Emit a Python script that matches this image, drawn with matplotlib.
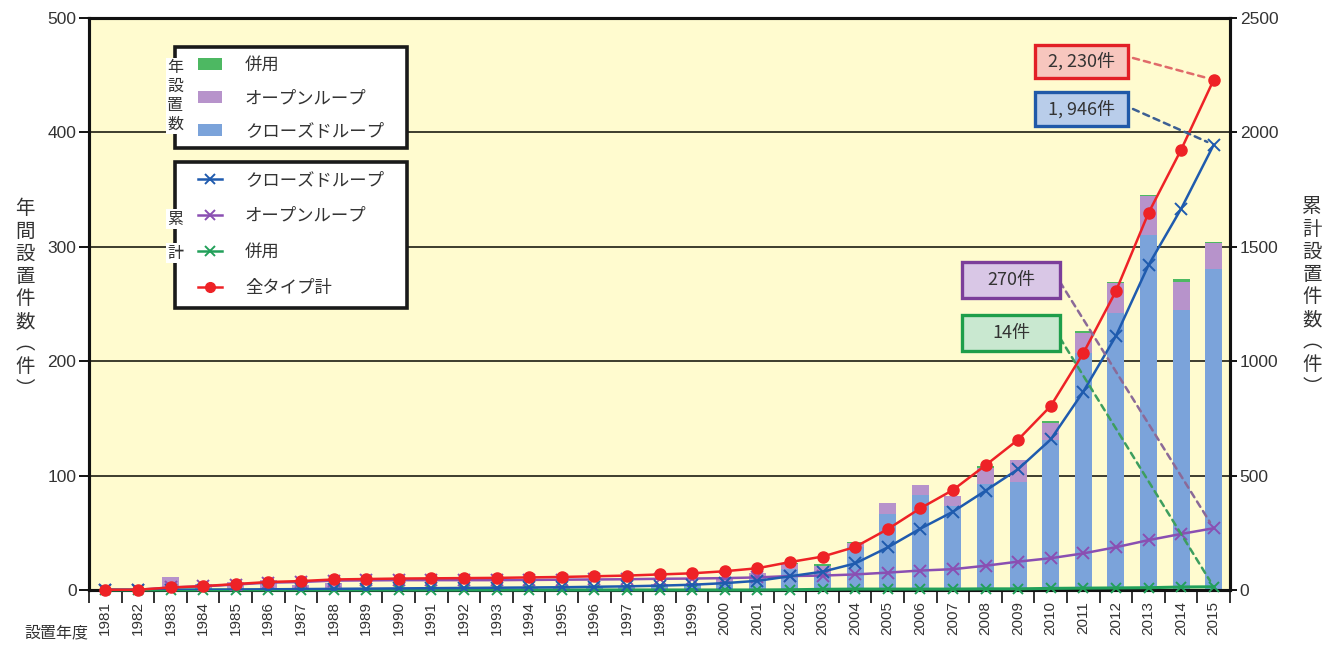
import matplotlib
matplotlib.use("Agg")
import matplotlib.pyplot as plt
from matplotlib.patches import Rectangle, Patch
from matplotlib.lines import Line2D
import numpy as np

plt.rcParams['font.family'] = ['Noto Sans CJK JP', 'DejaVu Sans']

years = list(range(1981, 2016))

closed_annual = [0, 0, 0, 1, 1, 1, 1, 1, 1, 1,
                 1, 1, 1, 1, 1, 2, 2, 3, 4, 7,
                 10, 18, 15, 38, 66, 83, 73, 93, 94, 131,
                 207, 242, 310, 245, 281]
open_annual = [1, 0, 11, 4, 6, 8, 3, 5, 1, 1,
               0, 0, 0, 1, 1, 1, 1, 2, 1, 3,
               5, 5, 6, 3, 10, 9, 9, 14, 20, 15,
               18, 26, 34, 24, 22]
combined_annual = [0, 0, 0, 0, 0, 0, 0, 0, 0, 0,
                   0, 0, 0, 0, 0, 0, 0, 0, 0, 0,
                   0, 1, 2, 1, 0, 0, 0, 1, 0, 2,
                   1, 1, 1, 3, 1]

closed_cum = [0, 0, 0, 1, 2, 3, 4, 5, 6, 7,
              8, 9, 10, 11, 12, 14, 16, 19, 23, 30,
              40, 60, 80, 116, 186, 268, 342, 434, 528, 658,
              867, 1110, 1420, 1666, 1946]
open_cum = [1, 1, 11, 16, 24, 32, 35, 41, 42, 43,
            43, 43, 43, 44, 45, 46, 47, 49, 50, 52,
            55, 61, 63, 68, 76, 85, 91, 106, 124, 139,
            160, 187, 218, 245, 270]
combined_cum = [0, 0, 0, 0, 0, 0, 0, 0, 0, 0,
                0, 0, 0, 0, 0, 0, 0, 0, 0, 0,
                0, 1, 3, 4, 4, 4, 4, 5, 5, 7,
                8, 9, 10, 13, 14]
total_cum = [1, 1, 11, 17, 26, 35, 39, 46, 48, 50,
             51, 52, 53, 55, 57, 60, 63, 68, 73, 82,
             95, 122, 146, 188, 266, 357, 437, 545, 657, 804,
             1035, 1306, 1648, 1924, 2230]

left_ticks = [0, 100, 200, 300, 400, 500]
right_ticks = [0, 500, 1000, 1500, 2000, 2500]

W, H = 1336, 648
C_BAR_BLUE = '#7BA3DA'
C_BAR_PURP = '#B793CB'
C_BAR_GREEN = '#4DB862'
C_LN_BLUE = '#1F5BAE'
C_LN_PURP = '#8A4FB2'
C_LN_GREEN = '#22A05A'
C_LN_RED = '#EE2226'
TXT = '#333333'

fig = plt.figure(figsize=(W / 100, H / 100), dpi=100)
ax = fig.add_axes([89 / W, 58 / H, (1230 - 89) / W, (590 - 18) / H])
ax.set_facecolor('#FFFBCF')

x = np.array(years)
ca = np.array(closed_annual)
oa = np.array(open_annual)
ga = np.array(combined_annual)
bw = 0.52
ax.bar(x, ca, width=bw, color=C_BAR_BLUE, zorder=2)
ax.bar(x, oa, width=bw, bottom=ca, color=C_BAR_PURP, zorder=2)
ax.bar(x, ga, width=bw, bottom=ca + oa, color=C_BAR_GREEN, zorder=2)

ax.set_xlim(1980.5, 2015.5)
ax.set_ylim(0, 500)
ax.set_yticks(left_ticks)
for v in left_ticks[1:-1]:
    ax.axhline(v, color='#2E2E20', lw=1.3, zorder=1)

ax.set_xticks(years)
ax.set_xticks(np.arange(1980.5, 2016, 1), minor=True)
ax.set_xticklabels([str(y) for y in years], rotation=90, fontsize=11,
                   family='Liberation Sans', color=TXT)
ax.tick_params(axis='x', which='major', length=0, pad=8)
ax.tick_params(axis='x', which='minor', length=9, width=1.3, color='#222222')
ax.tick_params(axis='y', which='major', length=7, width=1.3, labelsize=12.5,
               labelcolor=TXT, pad=2)
for lab in ax.get_yticklabels():
    lab.set_family('Liberation Sans')
for s in ax.spines.values():
    s.set_linewidth(2.2)
    s.set_color('#111111')

ax2 = ax.twinx()
ax2.set_ylim(0, 2500)
ax2.set_yticks(right_ticks)
ax2.tick_params(axis='y', length=5, width=1.3, labelsize=12.5, labelcolor=TXT, pad=2)
for lab in ax2.get_yticklabels():
    lab.set_family('Liberation Sans')
for s in ax2.spines.values():
    s.set_linewidth(2.2)
    s.set_color('#111111')

ax2.plot(x, combined_cum, color=C_LN_GREEN, lw=2.2, marker='x', ms=7, mew=1.4, zorder=3, clip_on=False)
ax2.plot(x, open_cum, color=C_LN_PURP, lw=1.8, marker='x', ms=8, mew=1.4, zorder=4)
ax2.plot(x, closed_cum, color=C_LN_BLUE, lw=1.8, marker='x', ms=8, mew=1.4, zorder=5)
ax2.plot(x, total_cum, color=C_LN_RED, lw=1.8, marker='o', ms=8, zorder=6, clip_on=False)

# annotation boxes
def fx(px):
    return px / W

def fy(py):
    return 1 - py / H

boxes = [
    (f"{total_cum[-1]:,}件".replace(',', ', '), 1035, 45, 93, 33, '#E21F26', '#F7C6BE', total_cum[-1], (1133, 58), '#E06A6A'),
    (f"{closed_cum[-1]:,}件".replace(',', ', '), 1035, 92, 93, 34, '#2059A8', '#B9CDEA', closed_cum[-1], (1133, 109), '#3C5F93'),
    (f"{open_cum[-1]}件", 962, 262, 98, 36, '#7B3E9A', '#D9C7E6', open_cum[-1], (1060, 282), '#8B6A98'),
    (f"{combined_cum[-1]}件", 962, 315, 98, 36, '#1E9E4A', '#C9E8D0', combined_cum[-1], (1060, 338), '#3D9E5E'),
]
for text, bx, by, bwid, bh, ec, fc, val, start, lc in boxes:
    r = Rectangle((fx(bx), fy(by + bh)), bwid / W, bh / H, transform=fig.transFigure,
                  facecolor=fc, edgecolor=ec, lw=2.4, zorder=8)
    fig.add_artist(r)
    fig.text(fx(bx + bwid / 2), fy(by + bh / 2), text, ha='center', va='center',
             fontsize=13, color=TXT, zorder=9)
    ax2.annotate('', xy=(2015, val), xycoords='data',
                 xytext=(fx(start[0]), fy(start[1])), textcoords='figure fraction',
                 arrowprops=dict(arrowstyle='-', linestyle=(0, (2.5, 2)), color=lc, lw=1.8,
                                 shrinkA=0, shrinkB=5), zorder=7)

# legend frames
fig.add_artist(Rectangle((fx(175), fy(148)), 232 / W, 101 / H, transform=fig.transFigure,
                         facecolor='white', edgecolor='#1A1A1A', lw=2.6, zorder=4))
fig.add_artist(Rectangle((fx(175), fy(308)), 232 / W, 146 / H, transform=fig.transFigure,
                         facecolor='white', edgecolor='#1A1A1A', lw=2.6, zorder=4))

lfont = dict(size=12.5)
h1 = [Patch(facecolor=C_BAR_GREEN), Patch(facecolor=C_BAR_PURP), Patch(facecolor=C_BAR_BLUE)]
l1 = ['併用', 'オープンループ', 'クローズドループ']
leg1 = fig.legend(h1, l1, loc='upper left', bbox_to_anchor=(fx(198), fy(56)), frameon=False,
                  borderpad=0, borderaxespad=0, prop=lfont, handlelength=1.4, handleheight=0.65,
                  handletextpad=1.3, labelspacing=0.87)
for t in leg1.get_texts():
    t.set_color(TXT)

h2 = [Line2D([], [], color=C_LN_BLUE, marker='x', ms=7, mew=1.4, lw=1.8),
      Line2D([], [], color=C_LN_PURP, marker='x', ms=7, mew=1.4, lw=1.8),
      Line2D([], [], color=C_LN_GREEN, marker='x', ms=7, mew=1.4, lw=1.8),
      Line2D([], [], color=C_LN_RED, marker='o', ms=7, lw=1.8)]
l2 = ['クローズドループ', 'オープンループ', '併用', '全タイプ計']
leg2 = fig.legend(h2, l2, loc='upper left', bbox_to_anchor=(fx(198), fy(171)), frameon=False,
                  borderpad=0, borderaxespad=0, prop=lfont, handlelength=1.4,
                  handletextpad=1.3, labelspacing=1.03)
for t in leg2.get_texts():
    t.set_color(TXT)

fig.text(fx(175), fy(96), '年\n設\n置\n数', ha='center', va='center', fontsize=11.5,
         color=TXT, linespacing=1.15, zorder=10,
         bbox=dict(facecolor='white', edgecolor='none', pad=1))
fig.text(fx(175), fy(219), '累', ha='center', va='center', fontsize=11.5, color=TXT, zorder=10,
         bbox=dict(facecolor='white', edgecolor='none', pad=1))
fig.text(fx(175), fy(253), '計', ha='center', va='center', fontsize=11.5, color=TXT, zorder=10,
         bbox=dict(facecolor='white', edgecolor='none', pad=1))

# axis titles
fig.text(fx(25), fy(299), '年\n間\n設\n置\n件\n数\n︵\n件\n︶', ha='center', va='center',
         fontsize=14, color=TXT, linespacing=1.1)
fig.text(fx(1312), fy(297), '累\n計\n設\n置\n件\n数\n︵\n件\n︶', ha='center', va='center',
         fontsize=14, color=TXT, linespacing=1.1)
fig.text(fx(56), fy(633), '設置年度', ha='center', va='center', fontsize=11.5, color=TXT)

fig.savefig('out.png', dpi=100)
